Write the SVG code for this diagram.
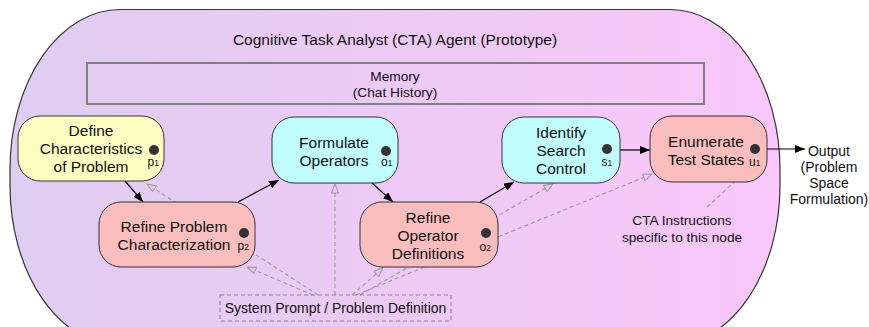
<svg xmlns="http://www.w3.org/2000/svg" width="869" height="327" viewBox="0 0 869 327">
<defs>
<linearGradient id="bg" x1="0" y1="0" x2="1" y2="0">
<stop offset="0" stop-color="#dfcdf1"/>
<stop offset="1" stop-color="#fac7fa"/>
</linearGradient>
<marker id="ah" markerUnits="userSpaceOnUse" markerWidth="10" markerHeight="8" refX="10" refY="4" orient="auto">
<path d="M0,0 L10,4 L0,8 Z" fill="#000"/>
</marker>
<marker id="hh" markerUnits="userSpaceOnUse" markerWidth="11" markerHeight="9" refX="0.5" refY="4" orient="auto">
<path d="M0.5,0.5 L9.5,4 L0.5,7.5 Z" fill="none" stroke="#999" stroke-width="1"/>
</marker>
</defs>
<style>
text{font-family:"Liberation Sans",Arial,sans-serif;fill:#111}
.node{stroke:#333;stroke-width:1}
.yel{fill:#fdfdc2}
.pink{fill:#f9bdbd}
.cyan{fill:#c2fdfd}
.nt{font-size:15.5px;text-anchor:middle}
.dot{fill:#333}
.lab{font-size:12px}
.sub{font-size:8.5px}
.solid{stroke:#000;stroke-width:1.2;fill:none;marker-end:url(#ah)}
.dash{stroke:#999;stroke-width:1.1;fill:none;stroke-dasharray:4 3;marker-end:url(#hh)}
.small{font-size:14px;text-anchor:middle}
</style>
<g id="agent">
<rect x="10" y="9.5" width="770" height="336" rx="110" ry="160" fill="url(#bg)" stroke="#333" stroke-width="1.2"/>
<text x="395" y="45" font-size="15.5" text-anchor="middle">Cognitive Task Analyst (CTA) Agent (Prototype)</text>
</g>
<g id="memory">
<rect x="87" y="63" width="617" height="41" fill="none" stroke="#808080" stroke-width="2"/>
<text x="395" y="81" font-size="13.7" text-anchor="middle">Memory</text>
<text x="395" y="97" font-size="13.7" text-anchor="middle">(Chat History)</text>
</g>
<g id="connectors">
<path class="solid" d="M125,181 L143,202"/>
<path class="solid" d="M238,202 L279,180"/>
<path class="solid" d="M372,183 L393,202"/>
<path class="solid" d="M480,202 L514,182"/>
<path class="solid" d="M620,150 L650,150"/>
<path class="solid" d="M767,149 L805,149"/>
<path class="dash" d="M318,295 L154.6,188.9"/>
<path class="dash" d="M313,295 L255.3,270.5"/>
<path class="dash" d="M335,295 L335,193"/>
<path class="dash" d="M352,295 L376.2,273.9"/>
<path class="dash" d="M360,295 L545.2,188.5"/>
<path class="dash" d="M356,295 L643.7,177.4"/>
<path class="dash" d="M707,207 L746.4,171.1"/>
</g>
<g id="p1">
<rect class="node yel" x="18" y="116" width="146" height="65" rx="22"/>
<text class="nt" x="91" y="135.5">Define</text>
<text class="nt" x="91" y="153.5">Characteristics</text>
<text class="nt" x="91" y="171.5">of Problem</text>
<circle class="dot" cx="154" cy="150" r="5"/>
<text class="lab" x="147.5" y="166">p<tspan class="sub">1</tspan></text>
</g>
<g id="p2">
<rect class="node pink" x="99" y="202" width="156" height="65" rx="22"/>
<text class="nt" x="174" y="231.5">Refine Problem</text>
<text class="nt" x="174" y="249.5">Characterization</text>
<circle class="dot" cx="244" cy="233" r="5"/>
<text class="lab" x="237.5" y="250">p<tspan class="sub">2</tspan></text>
</g>
<g id="o1">
<rect class="node cyan" x="272" y="117" width="126" height="66" rx="22"/>
<text class="nt" x="334" y="147.5">Formulate</text>
<text class="nt" x="334" y="165.5">Operators</text>
<circle class="dot" cx="386" cy="151" r="5"/>
<text class="lab" x="381" y="166">o<tspan class="sub">1</tspan></text>
</g>
<g id="o2">
<rect class="node pink" x="360" y="202" width="138" height="65" rx="22"/>
<text class="nt" x="428" y="222.5">Refine</text>
<text class="nt" x="428" y="240.5">Operator</text>
<text class="nt" x="428" y="258.5">Definitions</text>
<circle class="dot" cx="486" cy="233" r="5"/>
<text class="lab" x="479.5" y="251">o<tspan class="sub">2</tspan></text>
</g>
<g id="s1">
<rect class="node cyan" x="502" y="117" width="118" height="66" rx="22"/>
<text class="nt" x="561" y="137.5">Identify</text>
<text class="nt" x="561" y="155.5">Search</text>
<text class="nt" x="561" y="173.5">Control</text>
<circle class="dot" cx="607" cy="149" r="5"/>
<text class="lab" x="601.5" y="166">s<tspan class="sub">1</tspan></text>
</g>
<g id="u1">
<rect class="node pink" x="650" y="116" width="117" height="66" rx="22"/>
<text class="nt" x="706" y="146.5">Enumerate</text>
<text class="nt" x="706" y="164.5">Test States</text>
<circle class="dot" cx="755" cy="149" r="5"/>
<text class="lab" x="749" y="166">u<tspan class="sub">1</tspan></text>
</g>
<g id="output">
<text class="small" x="829" y="156">Output</text>
<text class="small" x="829" y="172">(Problem</text>
<text class="small" x="829" y="188">Space</text>
<text class="small" x="829" y="204">Formulation)</text>
</g>
<g id="cta-note">
<text x="682" y="225" font-size="13.7" text-anchor="middle">CTA Instructions</text>
<text x="682" y="242" font-size="13.7" text-anchor="middle">specific to this node</text>
</g>
<g id="system-prompt">
<rect x="220" y="295" width="231" height="26" fill="none" stroke="#888" stroke-width="1.1" stroke-dasharray="4 3"/>
<text class="small" x="335.5" y="313">System Prompt / Problem Definition</text>
</g>
</svg>
